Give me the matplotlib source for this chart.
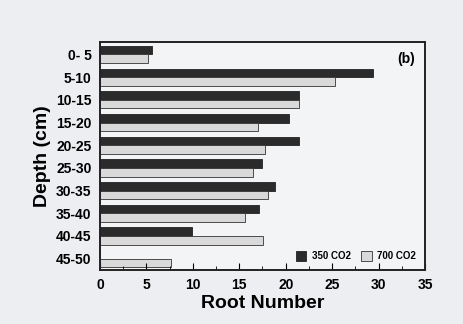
import numpy as np
import matplotlib
matplotlib.use("Agg")
import matplotlib.pyplot as plt
from matplotlib.ticker import MultipleLocator

# data
depths = ['0- 5', '5-10', '10-15', '15-20', '20-25', '25-30', '30-35', '35-40', '40-45', '45-50']
co2_350 = [5.6, 29.4, 21.4, 20.4, 21.4, 17.5, 18.8, 17.1, 9.9, 0.0]
co2_700 = [5.2, 25.3, 21.4, 17.0, 17.8, 16.5, 18.1, 15.6, 17.6, 7.6]

plt.rcParams['font.family'] = 'Liberation Sans'
plt.rcParams['font.weight'] = 'bold'

fig = plt.figure(figsize=(4.64, 3.24), dpi=100)
fig.patch.set_facecolor('#eceef1')
ax = fig.add_axes([100/464, 1 - 270/324, 325/464, 228/324])
ax.set_facecolor('#f3f4f6')

y = np.arange(len(depths))
h = 0.38
ax.barh(y - h/2, co2_350, height=h, color='#2b2b2b', edgecolor='#222222', linewidth=0.6, label='350 CO2')
ax.barh(y + h/2, co2_700, height=h, color='#d9d9d9', edgecolor='#333333', linewidth=0.6, label='700 CO2')

ax.set_xlim(0, 35)
ax.set_ylim(len(depths) - 0.5, -0.55)
ax.set_yticks(y)
ax.set_yticklabels(depths, fontsize=10, fontweight='bold')
ax.xaxis.set_major_locator(MultipleLocator(5))
ax.xaxis.set_minor_locator(MultipleLocator(2.5))
ax.tick_params(axis='x', which='major', direction='in', length=5, labelsize=10, pad=6)
ax.tick_params(axis='x', which='minor', direction='in', length=3)
ax.tick_params(axis='y', which='major', direction='out', length=0, pad=6)
for lab in ax.get_xticklabels():
    lab.set_fontweight('bold')
for s in ax.spines.values():
    s.set_linewidth(1.4)
    s.set_color('#222222')

ax.set_xlabel('Root Number', fontsize=14, fontweight='bold', labelpad=2)
ax.set_ylabel('Depth (cm)', fontsize=14, fontweight='bold', labelpad=4)
ax.text(0.97, 0.955, '(b)', transform=ax.transAxes, ha='right', va='top', fontsize=10, fontweight='bold')

ax.legend(loc='lower right', ncol=2, frameon=False, handlelength=1.1, handleheight=1.1,
          columnspacing=1.0, handletextpad=0.6, borderaxespad=0.5,
          prop={'family': 'Liberation Sans', 'weight': 'bold', 'size': 7})

plt.savefig('out.png', dpi=100, facecolor=fig.get_facecolor())
